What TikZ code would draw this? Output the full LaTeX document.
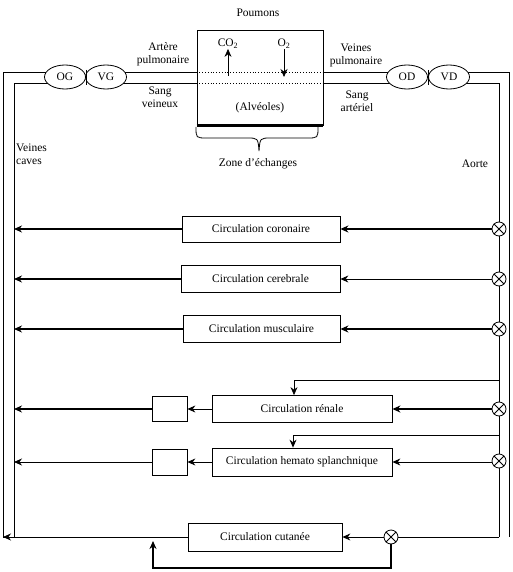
\documentclass[tikz,border=0pt]{standalone}
\usepackage{fontspec}
\setmainfont{Liberation Serif}
\usetikzlibrary{arrows.meta,shapes.geometric}
\begin{document}
\begin{tikzpicture}[x=1pt,y=-1pt,
  font=\fontsize{11.5}{13}\selectfont,
  ln/.style={line width=0.8pt},
  thk/.style={line width=2.2pt},
  arr/.style={-{Stealth[length=8pt,width=7pt]}},
  cbox/.style={draw, line width=0.8pt, inner sep=0pt, fill=white},
  heart/.style={draw, ellipse, line width=0.8pt, minimum width=41pt, minimum height=24pt, inner sep=0pt, fill=white},
  ox/.style={draw, circle, line width=0.8pt, minimum size=14pt, inner sep=0pt, fill=white},
  lbl/.style={align=center, inner sep=0pt}
]
\useasboundingbox (0,0) rectangle (512,572);

% corner coordinates of the main loop
\coordinate (oBL) at (3,537);
\coordinate (oTL) at (3,72);
\coordinate (iBL) at (14,537);
\coordinate (iTL) at (14,83);
\coordinate (oTR) at (509,72);
\coordinate (oBR) at (509,537);
\coordinate (iTR) at (499,83);
\coordinate (iBR) at (499,537);

% lungs box
\node[cbox, minimum width=126pt, minimum height=95pt] (lung) at (260,77.5) {};

% heart chambers
\coordinate (OGc) at (65,77);
\coordinate (VGc) at (106,77);
\coordinate (ODc) at (407,77);
\coordinate (VDc) at (449,77);

% main loop lines (drawn under the chambers)
\draw[ln] (iBL) -- (oBL |- iBL);
\draw[ln] (oBL) -- (oTL) -- (OGc |- oTL);
\draw[ln] (iBL) -- (iTL) -- (OGc |- iTL);
\draw[ln] (VGc |- oTL) -- (lung.west |- oTL);
\draw[ln] (VGc |- iTL) -- (lung.west |- iTL);
\draw[ln] (lung.east |- oTL) -- (ODc |- oTL);
\draw[ln] (lung.east |- iTL) -- (ODc |- iTL);
\draw[ln] (VDc |- oTR) -- (oTR) -- (oBR);
\draw[ln] (VDc |- iTR) -- (iTR) -- (iBR);

\node[heart] (OG) at (OGc) {OG};
\node[heart] (VG) at (VGc) {VG};
\node[heart] (OD) at (ODc) {OD};
\node[heart] (VD) at (VDc) {VD};
\draw[ln] (86,70) -- (86,85);
\draw[ln] (428,70) -- (428,85);

% lungs details
\draw[line width=2.5pt] (lung.south west) -- (lung.south east);
\draw[line width=1.8pt] (lung.south east) -- (lung.north east);
\draw[ln, dotted] (lung.west |- oTL) -- (lung.east |- oTL);
\draw[ln, dotted] (lung.west |- iTL) -- (lung.east |- iTL);
\node[lbl] (co2) at (228,44) {CO\textsubscript{2}};
\node[lbl] (o2) at (284,44) {O\textsubscript{2}};
\coordinate (co2a) at (228,76);
\coordinate (o2a) at (284,77);
\draw[ln, arr] (co2a) -- (co2.south);
\draw[ln, arr] (o2.south) -- (o2a);
\node[lbl] (alv) at (260,108) {(Alvéoles)};
\node[lbl] (poumons) at (258,13) {Poumons};
% brace under the lungs
\draw[ln] (196,127) .. controls (196,138) .. (207,138) -- (247,138)
  .. controls (258,138) .. (259,151) .. controls (260,138) .. (271,138)
  -- (307,138) .. controls (318,138) .. (318,127);
\node[lbl] (zone) at (258,164) {Zone d'échanges};

% side labels
\node[lbl] (artere) at (163,54) {Artère\\pulmonaire};
\node[lbl] (sangv) at (160,97) {Sang\\veineux};
\node[lbl] (veinesp) at (356,55) {Veines\\pulmonaire};
\node[lbl] (sanga) at (357,101) {Sang\\artériel};
\node[lbl, align=left, anchor=north west] (caves) at (16,144) {Veines\\caves};
\node[lbl] (aorte) at (475,164) {Aorte};

% organ circulations
\node[cbox, minimum width=158pt, minimum height=26pt] (coro) at (261,229) {Circulation coronaire};
\node[cbox, minimum width=159pt, minimum height=27pt] (cere) at (260.5,279) {Circulation cerebrale};
\node[cbox, minimum width=157pt, minimum height=27pt] (musc) at (261.5,329) {Circulation musculaire};
\node[cbox, minimum width=180pt, minimum height=27pt] (ren) at (302,409) {Circulation rénale};
\node[cbox, minimum width=180pt, minimum height=28pt] (hem) at (302,462) {Circulation hemato splanchnique};
\node[cbox, minimum width=35pt, minimum height=25pt] (sb1) at (169.5,409) {};
\node[cbox, minimum width=35pt, minimum height=26pt] (sb2) at (169.5,462) {};
\node[cbox, minimum width=154pt, minimum height=28pt] (cut) at (265,537) {Circulation cutanée};

% valves
\node[ox] (x1) at (499,229) {};
\node[ox] (x2) at (499,279) {};
\node[ox] (x3) at (499,329) {};
\node[ox] (x4) at (499,409) {};
\node[ox] (x5) at (499,461) {};
\node[ox] (x6) at (391,537) {};
\foreach \n in {x1,x2,x3,x4,x5,x6}{
  \draw[ln] (\n.north west) -- (\n.south east);
  \draw[ln] (\n.north east) -- (\n.south west);
}

% arterial inputs
\draw[thk, arr] (x1.west) -- (coro.east);
\draw[ln, arr] (x2.west) -- (cere.east);
\draw[thk, arr] (x3.west) -- (musc.east);
\draw[thk, arr] (x4.west) -- (ren.east);
\draw[ln, arr] (x5.west |- hem.east) -- (hem.east);
\draw[ln, arr] (x6.west) -- (cut.east);
\draw[ln] (iBR) -- (x6.east);

% venous outputs
\draw[thk, arr] (coro.west) -- (iTL |- coro.west);
\draw[thk, arr] (cere.west) -- (iTL |- cere.west);
\draw[thk, arr] (musc.west) -- (iTL |- musc.west);
\draw[ln, arr] (ren.west) -- (sb1.east);
\draw[thk, arr] (sb1.west) -- (iTL |- sb1.west);
\draw[ln, arr] (hem.west) -- (sb2.east);
\draw[ln, arr] (sb2.west) -- (iTL |- sb2.west);
\draw[ln, arr] (cut.west) -- (oBL);

% feedback branches
\coordinate (fb1) at (499,380);
\coordinate (fb2) at (499,435);
\draw[ln, arr] (fb1) -| ([xshift=-8pt]ren.north);
\draw[ln, arr] (fb2) -| ([xshift=-9pt]hem.north);

% cutaneous loop
\coordinate (loopB) at (391,568);
\coordinate (loopE) at (153,541);
\draw[thk, arr] (x6.south) -- (loopB) -| (loopE);
\end{tikzpicture}
\end{document}
